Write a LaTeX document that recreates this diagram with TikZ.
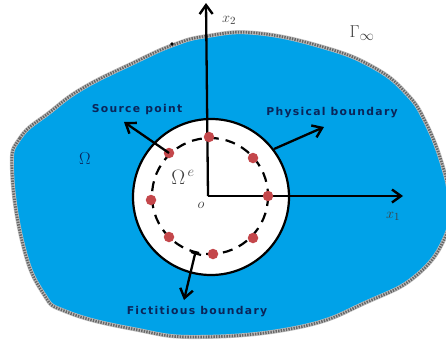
\documentclass[tikz,border=0pt]{standalone}
\usepackage{fontspec}
\newfontfamily\labelfont[LetterSpace=12]{DejaVu Sans}
\usetikzlibrary{arrows.meta}
\definecolor{domainblue}{HTML}{00A2E8}
\definecolor{labelnavy}{HTML}{0B2559}
\definecolor{pointred}{HTML}{C4474B}
\newcommand{\domainpath}{plot[smooth cycle, tension=0.75] coordinates {
    (12,170) (20,138) (50,112) (83,88) (133,63) (173,45) (207,36) (256,33)
    (323,47) (373,67) (406,93) (426,123) (443,167) (449,200) (446,235)
    (417,275) (367,302) (300,327) (200,337) (133,329) (67,312) (43,293)
    (23,245)}}
\tikzset{
    axisline/.style={line width=2.3pt, -{Straight Barb[length=9pt, width=13pt, line width=2.4pt]}},
    srcdot/.style={circle, fill=pointred, inner sep=0pt, minimum size=10.5pt},
    boxlabel/.style={font=\labelfont\bfseries\fontsize{10.8}{12}\selectfont, text=labelnavy, inner sep=0pt},
    mathlabel/.style={text=black!75, inner sep=0pt}
}
\begin{document}
\begin{tikzpicture}[x=1pt, y=-1pt]
    \useasboundingbox (0,0) rectangle (446,343);

    % Domain
    \fill[domainblue] \domainpath;
    \draw[line width=4pt, black!25] \domainpath;
    \draw[line width=2.8pt, black!60, dash pattern=on 1.4pt off 1.2pt] \domainpath;
    \fill[black] (172,44) circle (1.8pt);

    % Physical and fictitious boundary
    \draw[line width=2.2pt, fill=white] (211,197) circle (78);
    \draw[line width=2.2pt, dash pattern=on 10pt off 7pt] (210,196) circle (58);

    % Axes
    \coordinate (o) at (208,196);
    \coordinate (x2tip) at (206,3);
    \coordinate (x1tip) at (403,196);
    \draw[axisline] (o) -- (x2tip);
    \draw[axisline] (o) -- (x1tip);

    % Source points
    \node[srcdot] (p1) at (209,137) {};
    \node[srcdot] (p2) at (253,158) {};
    \node[srcdot] (p3) at (268,196) {};
    \node[srcdot] (p4) at (253,238) {};
    \node[srcdot] (p5) at (213,254) {};
    \node[srcdot] (p6) at (169,237) {};
    \node[srcdot] (p7) at (151,200) {};
    \node[srcdot] (p8) at (169,153) {};

    % Arrows to labels
    \coordinate (srctip) at (124,122);
    \coordinate (physstart) at (274,149);
    \coordinate (phystip) at (324,127);
    \coordinate (fictstart) at (195,254);
    \coordinate (ficttip) at (184,300);
    \draw[axisline] (p8.center) -- (srctip);
    \draw[axisline] (physstart) -- (phystip);
    \draw[axisline] (fictstart) -- (ficttip);
    \draw[line width=2.2pt] (191,252) -- (201,255);

    % Labels
    \node[boxlabel] (srclabel) at (137,110) {Source point};
    \node[boxlabel] (physlabel) at (332,113) {Physical boundary};
    \node[boxlabel] (fictlabel) at (197,312) {Fictitious boundary};
    \node[mathlabel, text=labelnavy, font=\fontsize{19}{20}\selectfont] (domlabel) at (85,159) {$\Omega$};
    \node[mathlabel, font=\fontsize{19}{20}\selectfont] (gammalabel) at (362,33) {$\Gamma_{\infty}$};
    \node[mathlabel, font=\fontsize{20}{22}\selectfont] (elemlabel) at (183,177) {$\Omega^{\,e}$};
    \node[mathlabel, font=\fontsize{15}{16}\selectfont] (olabel) at (201,205) {$o$};
    \node[mathlabel, font=\fontsize{15}{16}\selectfont] (x2label) at (229,20) {$x_2$};
    \node[mathlabel, font=\fontsize{15}{16}\selectfont] (x1label) at (393,216) {$x_1$};
\end{tikzpicture}
\end{document}
